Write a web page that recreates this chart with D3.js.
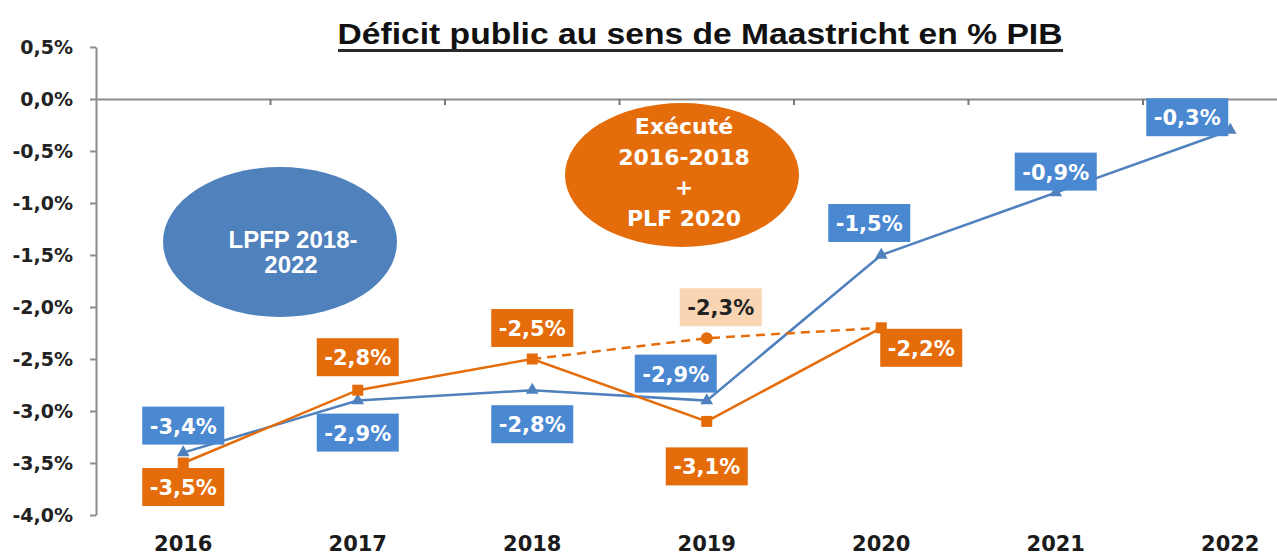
<!DOCTYPE html>
<meta charset="utf-8">
<style>
    body { margin: 0; background: #fff; }
    text { font-family: "Liberation Sans", Arial, sans-serif; font-weight: bold; }
    .wide { font-family: "DejaVu Sans", sans-serif; }
</style>
<svg width="1277" height="557"></svg>
<script src="https://d3js.org/d3.v7.min.js"></script>
<script>

var years = ["2016", "2017", "2018", "2019", "2020", "2021", "2022"];
var lpfp = [-3.4, -2.9, -2.8, -2.9, -1.5, -0.9, -0.3];            // LPFP 2018-2022
var execYears = ["2016", "2017", "2018", "2019", "2020"];
var executed = [-3.5, -2.8, -2.5, -3.1, -2.2];                     // Exécuté + PLF 2020
var dashYears = ["2018", "2019", "2020"];
var dashed = [-2.5, -2.3, -2.2];
var yTicks = [0.5, 0, -0.5, -1, -1.5, -2, -2.5, -3, -3.5, -4];

// label box offsets from the point (layout only)
var lpfpLabelPos = [[0, -27], [0, 32], [0, 34], [-31, -27], [-12, -32], [0, -21], [-43, -13]];
var execLabelPos = [[0, 24], [0, -33], [0, -31], [0, 45], [40, 20]];
var dashLabelPos = [null, [14, -31], null];

var blue = "#4f81bd", boxBlue = "#4a88d2", orange = "#e46c0a", peach = "#fad5b4";

var svg = d3.select("svg");

var x = d3.scaleBand().domain(years).range([96, 96 + 7 * 174.5]);
var y = d3.scaleLinear().domain([-4, 0.5]).range([515, 47]);
var cx = function(d) { return x(d) + x.bandwidth() / 2; };
var fmt = function(v) { return d3.format(".1f")(v).replace("\u2212", "-").replace(".", ",") + "%"; };

// title
svg.append("text")
    .attr("x", 700).attr("y", 44)
    .attr("text-anchor", "middle")
    .attr("textLength", 725).attr("lengthAdjust", "spacingAndGlyphs")
    .style("font-size", "29px").style("fill", "#111")
    .text("Déficit public au sens de Maastricht en % PIB");
svg.append("rect").attr("x", 338).attr("y", 49).attr("width", 725).attr("height", 3).attr("fill", "#2a2a2a");

// y axis
var yAxis = svg.append("g")
    .attr("transform", "translate(96,0)")
    .call(d3.axisLeft(y).tickValues(yTicks).tickSize(6).tickSizeOuter(0).tickPadding(17).tickFormat(fmt));
yAxis.select(".domain").attr("stroke", "#8c8c8c").attr("stroke-width", 2);
yAxis.selectAll(".tick line").attr("stroke", "#8c8c8c").attr("stroke-width", 2);
yAxis.selectAll(".tick text").attr("class", "wide").style("font-size", "19px").style("fill", "#222");

// x axis on the zero line
var xAxis = svg.append("g")
    .attr("transform", "translate(0," + y(0) + ")")
    .call(d3.axisBottom(x).tickValues([]).tickSizeOuter(0));
xAxis.select(".domain").attr("stroke", "#8c8c8c").attr("stroke-width", 2);
xAxis.selectAll(".bound").data(years.slice(1)).enter().append("line")
    .attr("x1", function(d) { return x(d); }).attr("x2", function(d) { return x(d); })
    .attr("y1", 0).attr("y2", 6)
    .attr("stroke", "#777").attr("stroke-width", 2);

// year labels at the bottom
svg.selectAll(".year").data(years).enter().append("text")
    .attr("class", "wide")
    .attr("x", cx).attr("y", 551)
    .attr("text-anchor", "middle")
    .style("font-size", "21px").style("fill", "#1b1b1b")
    .text(function(d) { return d; });

// ellipses
svg.append("ellipse").attr("cx", 280).attr("cy", 242).attr("rx", 117).attr("ry", 75).attr("fill", blue);
svg.append("text").attr("x", 293).attr("y", 248).attr("text-anchor", "middle")
    .style("font-size", "24px").style("fill", "#fff").text("LPFP 2018-");
svg.append("text").attr("x", 291).attr("y", 273).attr("text-anchor", "middle")
    .style("font-size", "24px").style("fill", "#fff").text("2022");

svg.append("ellipse").attr("cx", 682).attr("cy", 175).attr("rx", 117).attr("ry", 72).attr("fill", orange);
["Exécuté", "2016-2018", "+", "PLF 2020"].forEach(function(t, i) {
    svg.append("text").attr("class", "wide")
        .attr("x", 684).attr("y", 134 + i * 30.5)
        .attr("text-anchor", "middle")
        .style("font-size", "22px").style("fill", "#fff")
        .text(t);
});

// lines
var line = d3.line().x(function(d) { return cx(d[0]); }).y(function(d) { return y(d[1]); });

var lpfpPts = d3.zip(years, lpfp);
var execPts = d3.zip(execYears, executed);
var dashPts = d3.zip(dashYears, dashed);

svg.append("path").datum(lpfpPts).attr("d", line)
    .attr("fill", "none").attr("stroke", blue).attr("stroke-width", 2.5);
svg.append("path").datum(dashPts).attr("d", line)
    .attr("fill", "none").attr("stroke", orange).attr("stroke-width", 2.5).attr("stroke-dasharray", "9,6");
svg.append("path").datum(execPts).attr("d", line)
    .attr("fill", "none").attr("stroke", orange).attr("stroke-width", 2.5);

// markers
svg.selectAll(".tri").data(lpfpPts).enter().append("path")
    .attr("transform", function(d) { return "translate(" + cx(d[0]) + "," + y(d[1]) + ")"; })
    .attr("d", d3.symbol().type(d3.symbolTriangle).size(70))
    .attr("fill", blue);
svg.selectAll(".sq").data(execPts).enter().append("rect")
    .attr("x", function(d) { return cx(d[0]) - 5.5; })
    .attr("y", function(d) { return y(d[1]) - 5.5; })
    .attr("width", 11).attr("height", 11)
    .attr("fill", orange);
svg.selectAll(".dot").data(dashPts.slice(1, 2)).enter().append("circle")
    .attr("cx", function(d) { return cx(d[0]); })
    .attr("cy", function(d) { return y(d[1]); })
    .attr("r", 6).attr("fill", orange);

// label boxes
function labels(pts, pos, fill, color) {
    pts.forEach(function(d, i) {
        if (!pos[i]) return;
        var px = cx(d[0]) + pos[i][0], py = y(d[1]) + pos[i][1];
        svg.append("rect")
            .attr("x", px - 41).attr("y", py - 19)
            .attr("width", 82).attr("height", 38)
            .attr("fill", fill);
        svg.append("text").attr("class", "wide")
            .attr("x", px).attr("y", py + 8)
            .attr("text-anchor", "middle")
            .style("font-size", "21px").style("fill", color)
            .text(fmt(d[1]));
    });
}
labels(lpfpPts, lpfpLabelPos, boxBlue, "#fff");
labels(execPts, execLabelPos, orange, "#fff");
labels(dashPts, dashLabelPos, peach, "#222");

</script>
